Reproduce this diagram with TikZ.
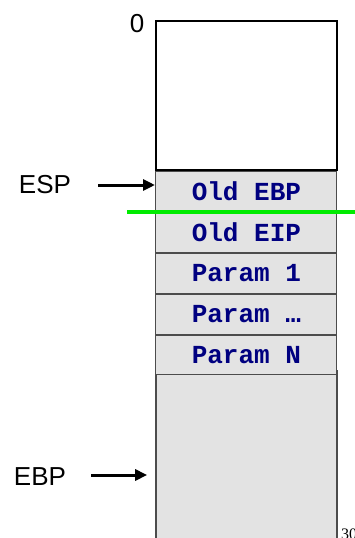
\documentclass[tikz,border=0pt]{standalone}
\usepackage{fontspec}
\setmainfont{Liberation Sans}
\setmonofont{Liberation Mono}
\newfontfamily\pagefont{Liberation Serif}
\usetikzlibrary{positioning, arrows.meta}

\definecolor{slotgray}{RGB}{227,227,227}
\definecolor{slotblue}{RGB}{0,0,128}
\definecolor{markgreen}{RGB}{0,235,0}

\tikzset{
  slot/.style={draw=black!70, line width=1pt, fill=slotgray, minimum width=181pt,
    minimum height=40pt, inner sep=0pt, text=slotblue,
    font=\ttfamily\bfseries\fontsize{26}{26}\selectfont},
  reglabel/.style={inner sep=0pt, font=\fontsize{26}{26}\selectfont},
  ptr/.style={-{Triangle[length=12pt,width=11pt]}, line width=3pt}
}

\begin{document}
\begin{tikzpicture}[x=1pt, y=-1pt, node distance=0pt]
	\useasboundingbox (0,0) rectangle (354,538);

	% free part of the stack
	\node[draw, line width=1.8pt, fill=white, minimum width=181pt, minimum height=149pt,
	      inner sep=0pt, anchor=north west] (free) at (155,20) {};
	\node[slot, line width=1.5pt, minimum height=175pt, anchor=north] (rest) at (free.south |- 0,370) {};
	\node[slot] 			(ebp)   [below			=of free] 	{Old EBP};
	\node[slot] 			(eip)   [below			=of ebp] 	{Old EIP};
	\node[slot] 			(p1)    [below			=of eip] 	{Param 1};
	\node[slot] 			(pdots) [below			=of p1] 	{Param \ldots};
	\node[slot, minimum height=39pt]	(pn) [below	=of pdots] 	{Param N};

	% labels
	\node[reglabel] 		(zero)	at (137,24) 	{0};
	\node[reglabel] 		(esp)	at (45,185) 	{ESP};
	\node[reglabel] 		(ebpl)	at (40,477) 	{EBP};
	\node[font=\pagefont\fontsize{16}{16}\selectfont, anchor=base west, inner sep=0pt]
	                        (page)	at (341,539) 	{30};

	% pointers
	\draw[ptr] ([xshift=27pt]esp.east) -- (esp.east -| free.west);
	\draw[ptr] ([xshift=25pt]ebpl.east |- 0,475) -- ([xshift=-8pt]rest.west |- 0,475);

	% frame pointer mark
	\draw[markgreen, line width=4pt] ([xshift=-28pt]eip.north west) -- ([xshift=25pt]eip.north east);
\end{tikzpicture}
\end{document}
